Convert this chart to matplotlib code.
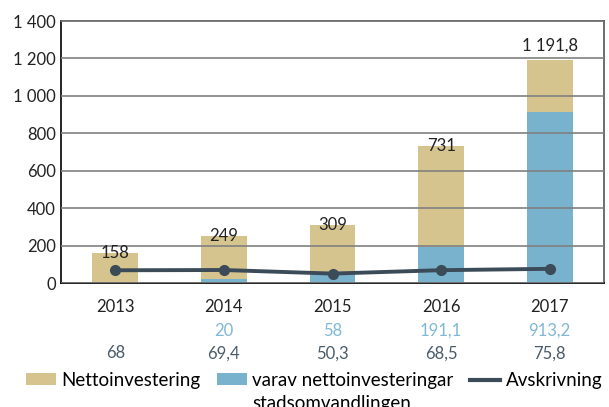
import numpy as np
import matplotlib.pyplot as plt
from matplotlib.lines import Line2D

plt.rcParams['font.family'] = ['Lato', 'DejaVu Sans']

# data
years = ['2013', '2014', '2015', '2016', '2017']
netto = [158, 249, 309, 731, 1191.8]
stads = [0, 20, 58, 191.1, 913.2]
avskr = [68, 69.4, 50.3, 68.5, 75.8]
netto_lbl = ['158', '249', '309', '731', '1 191,8']
stads_lbl = ['', '20', '58', '191,1', '913,2']
avskr_lbl = ['68', '69,4', '50,3', '68,5', '75,8']

tan = '#d6c48e'
blue = '#78b2cc'
dark = '#3b4b58'

fig = plt.figure(figsize=(6.09, 4.07), dpi=100)
ax = fig.add_axes([61 / 609, 1 - 283 / 407, (604 - 61) / 609, (283 - 21) / 407])

x = np.arange(len(years))
w = 0.42
b1 = ax.bar(x, netto, width=w, color=tan, zorder=1)
b2 = ax.bar(x, stads, width=w, color=blue, zorder=1)
ax.plot(x, avskr, color=dark, lw=2.8, marker='o', ms=7, zorder=4)

# value labels on bars
for i, v in enumerate(netto):
    dy = 10 if i == len(netto) - 1 else 0
    ax.annotate(netto_lbl[i], (x[i], v), xytext=(0, dy), textcoords='offset points',
                ha='center', va='center', fontsize=12, color='#222222', zorder=5)

ax.set_xlim(-0.5, 4.5)
ax.set_ylim(0, 1400)
ax.set_yticks(range(0, 1401, 200))
ax.set_yticklabels(['0', '200', '400', '600', '800', '1 000', '1 200', '1 400'])
ax.set_xticks(x)
ax.set_xticklabels(years)
ax.tick_params(axis='both', length=0, labelsize=12, labelcolor='#222222')
ax.tick_params(axis='x', pad=11.5)
ax.grid(axis='y', color='#808080', lw=1.2, zorder=2)
ax.set_axisbelow(False)
for s in ['left', 'bottom']:
    ax.spines[s].set_color('black')
    ax.spines[s].set_linewidth(1.2)
for s in ['top', 'right']:
    ax.spines[s].set_color('#555555')
    ax.spines[s].set_linewidth(1.2)

# table rows below the axis
for i in range(len(years)):
    ax.annotate(stads_lbl[i], (x[i], 0), xycoords=('data', 'axes fraction'),
                xytext=(0, -34.5), textcoords='offset points', ha='center', va='center',
                fontsize=12, color='#7fb8d4')
    ax.annotate(avskr_lbl[i], (x[i], 0), xycoords=('data', 'axes fraction'),
                xytext=(0, -50.5), textcoords='offset points', ha='center', va='center',
                fontsize=12, color='#4a5c6a')

# legend (second line of the blue label placed separately)
handles = [b1, b2, Line2D([], [], color=dark, lw=3)]
labels = ['Nettoinvestering', 'varav nettoinvesteringar', 'Avskrivning']
leg = fig.legend(handles, labels, loc='upper left', bbox_to_anchor=(0.043, 0.086), ncol=3,
                 frameon=False, fontsize=13.5, handlelength=1.6, handleheight=0.6,
                 columnspacing=0.9, handletextpad=0.27, borderaxespad=0, borderpad=0)
fig.canvas.draw()
bb = leg.get_texts()[1].get_window_extent()
fig.text(bb.x0 / fig.bbox.width, (bb.y0 - 23) / fig.bbox.height, 'stadsomvandlingen',
         fontsize=13.5, color=leg.get_texts()[1].get_color(), ha='left', va='bottom')

fig.savefig('out.png', dpi=100)
